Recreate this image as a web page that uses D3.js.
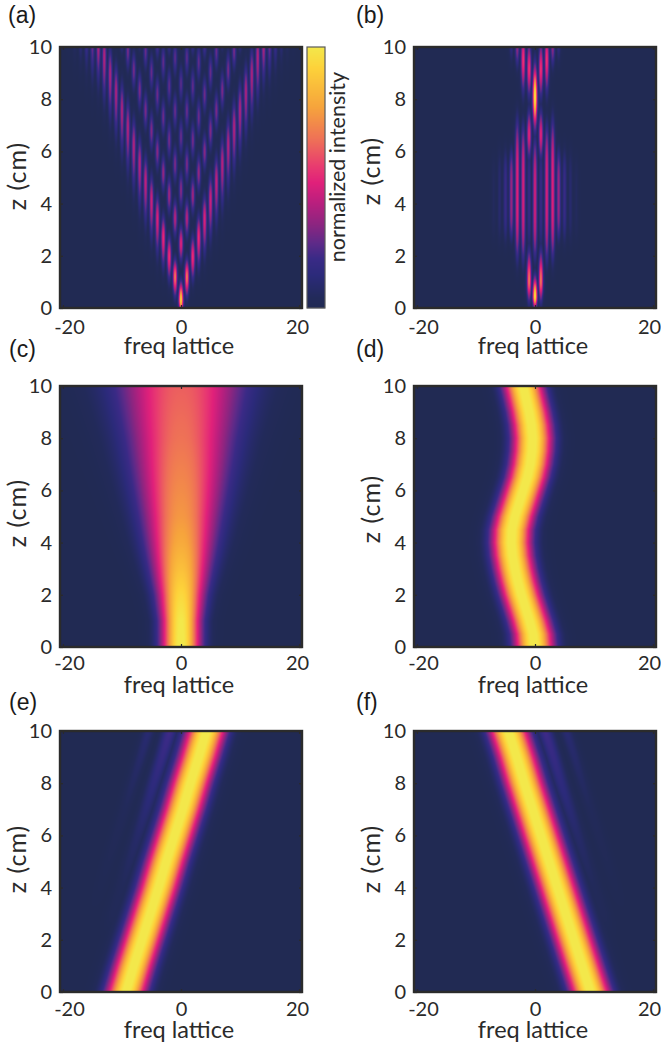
<!DOCTYPE html>
<html>
<head>
<meta charset="utf-8">
<script src="https://cdn.jsdelivr.net/npm/d3@7"></script>
<style>
html,body{margin:0;padding:0;background:#fff}
svg{display:block}
</style>
</head>
<body>
<div id="chart"></div>
<script>
// ---- axis content ----
const xTicks = [-20, 0, 20];
const zTicks = [0, 2, 4, 6, 8, 10];
const xTitle = "freq lattice";
const zTitle = "z (cm)";
const barTitle = "normalized intensity";

// ---- colour bar stops ----
const cmapLevels = [0, .04, .125, .19, .25, .32, .40, .48, .54, .64, .77, .92, 1];
const cmapColors = ["#212a53","#222a5a","#2b2a7a","#3a2a86","#5f2a88","#8c2580","#b81f7e","#e0207a","#e83a70","#ee6e58","#f6a43c","#fdd23a","#f3e84b"];

// ---- (a) bright lobes per lattice site |n|: [z, level, upper half length, lower half length, flatness] ----
const lobesA = [
 [[.3,.9,.6,.4],[2.47,.47,.62,.62],[4.53,.31,.65,.65],[6.56,.26,.65,.65],[8.59,.24,.65,.65]],
 [[1.19,.66,.6,.65],[3.44,.39,.65,.65],[5.51,.29,.65,.65],[7.55,.26,.65,.65],[9.59,.24,.65,.65]],
 [[1.97,.52,.7,.8],[4.33,.35,.65,.65],[6.43,.28,.65,.65],[8.5,.25,.65,.65],[10.4,.24,.65,.65]],
 [[2.71,.5,.75,1.0],[5.17,.33,.65,.65],[7.32,.27,.65,.65],[9.41,.25,.65,.65]],
 [[3.43,.46,.8,1.2],[5.99,.31,.65,.65],[8.18,.27,.65,.65],[10.25,.25,.65,.65]],
 [[4.14,.43,.85,1.3],[6.79,.3,.68,.68],[9.03,.26,.65,.65]],
 [[4.84,.41,.9,1.4],[7.57,.29,.68,.68],[9.85,.26,.65,.65]],
 [[5.54,.39,.9,1.5],[8.34,.29,.68,.68],[10.66,.26,.65,.65]],
 [[6.23,.38,.95,1.5],[9.11,.28,.68,.68]],
 [[6.91,.38,.95,1.5],[9.86,.28,.68,.68]],
 [[7.59,.37,.95,1.5],[10.6,.27,.68,.68]],
 [[8.28,.37,.95,1.5]],
 [[8.95,.37,.95,1.5]],
 [[9.63,.38,.95,1.5]],
 [[10.3,.39,.95,1.5]],
 [[10.5,.3,.9,1.5]],
 [[10.7,.23,.9,1.4]],
 [[10.9,.17,.9,1.3]],
 [[11.2,.13,.9,1.3]],
 [[11.5,.09,.9,1.2]]
];

// ---- (b) bright lobes per lattice site |n| ----
const lobesB = [
 [[.45,.95,.65,.4],[4.2,.44,2.2,2.2,4],[8.1,.97,1.05,1.05]],
 [[1.05,.66,1.0,.7],[4.2,.17,1.9,1.9,4],[6.65,.48,.85,.85],[9.15,.53,.95,.95]],
 [[4.5,.45,2.4,2.6,4],[9.5,.53,1.1,1.1]],
 [[4.5,.47,2.6,2.5,4],[10,.32,.7,.7]],
 [[4.3,.34,1.7,1.6,4],[10.2,.15,.7,.7]],
 [[4.3,.18,1.7,1.7,4]],
 [[4.3,.09,1.7,1.7,4]],
 [[4.2,.05,1.5,1.5,4]]
];

// ---- (c)-(f) beam read at heights z ----
const bandZ = [0,1,2,3,4,5,6,7,8,9,10];
const centreC = [0,0,0,0,0,0,0,0,0,0,0];
const widthC = [3.2,3.25,3.8,4.65,5.5,6.3,7.1,7.9,8.7,9.6,10.5];
const peakC = [1.02,1.0,.94,.86,.79,.74,.71,.68,.65,.63,.61];

const bandZD = [0,.5,1,1.5,2,2.5,3,3.5,4,4.5,5,5.5,6,6.5,7,7.5,8,8.5,9,9.5,10];
const centreD = [-.1,-.3,-.9,-1.6,-2.3,-2.9,-3.4,-3.8,-4,-3.9,-3.4,-2.7,-2,-1.3,-.8,-.5,-.4,-.6,-1,-1.5,-2];
const widthD = bandZD.map(() => 3.2);
const peakD = bandZD.map(() => 1.02);

const centreE = [-9.3,-8,-6.6,-5.2,-3.8,-2.5,-1.1,.3,1.6,3,4.3];
const centreF = [9.4,8,6.6,5.2,3.8,2.4,1,-.4,-1.8,-3.1,-4.5];
const widthEF = bandZ.map(() => 3.2);
const peakEF = bandZ.map(() => 1.02);
const fringeOne = [0,0,0,.03,.04,.06,.08,.11,.14,.17,.2];
const fringeTwo = [0,0,0,0,.01,.02,.03,.04,.06,.08,.1];

// ---- page layout ----
const W = 661, H = 1046;
const panels = [
 {tag:"(a)", left:60,  top:47,  bottom:308, tagX:8,   tagY:23,  tickPad:11.8, zMid:176, lobes:lobesA},
 {tag:"(b)", left:414, top:47,  bottom:308, tagX:356, tagY:23,  tickPad:11.8, zMid:171, lobes:lobesB},
 {tag:"(c)", left:60,  top:386, bottom:647, tagX:9,   tagY:357, tickPad:8.8,  zMid:513, z:bandZ,  c:centreC, w:widthC, p:peakC},
 {tag:"(d)", left:414, top:386, bottom:647, tagX:356, tagY:357, tickPad:8.8,  zMid:509, z:bandZD, c:centreD, w:widthD, p:peakD},
 {tag:"(e)", left:60,  top:731, bottom:992, tagX:9,   tagY:710, tickPad:9.8,  zMid:859, z:bandZ,  c:centreE, w:widthEF, p:peakEF, side:-1},
 {tag:"(f)", left:414, top:731, bottom:992, tagX:356, tagY:710, tickPad:9.8,  zMid:859, z:bandZ,  c:centreF, w:widthEF, p:peakEF, side:1}
];
const panelW = 242;
const labelFont = "Lato, 'Open Sans', sans-serif";
const dark = "#2b2b2b";

const colour = d3.scaleLinear().domain(cmapLevels).range(cmapColors).interpolate(d3.interpolateRgb).clamp(true);

const svg = d3.select("#chart").append("svg").attr("width", W).attr("height", H).attr("viewBox", `0 0 ${W} ${H}`);

function lobeField(lobes) {
  return (n, z) => {
    const site = Math.round(Math.abs(n));
    let best = 0;
    for (const s of [site - 1, site, site + 1]) {
      if (s < 0 || s >= lobes.length) continue;
      const dn = Math.abs(n) - s;
      const across = .82 * Math.exp(-Math.pow(dn / .33, 2)) + .18 * Math.exp(-Math.pow(dn / .72, 2));
      for (const [zc, level, up, down, flat = 2] of lobes[s]) {
        const dz = Math.abs(z - zc) / (z > zc ? up : down);
        best = Math.max(best, level * across * Math.exp(-Math.pow(dz, flat)));
      }
    }
    return best;
  };
}

function bandField(p) {
  const cAt = d3.scaleLinear().domain(p.z).range(p.c);
  const wAt = d3.scaleLinear().domain(p.z).range(p.w);
  const pAt = d3.scaleLinear().domain(p.z).range(p.p);
  const f1 = d3.scaleLinear().domain(bandZ).range(fringeOne);
  const f2 = d3.scaleLinear().domain(bandZ).range(fringeTwo);
  return (n, z) => {
    const d = n - cAt(z);
    let v = pAt(z) * Math.exp(-Math.pow(Math.abs(d) / wAt(z), 2.2));
    if (p.side) {
      const a = (d - p.side * 6.2) / 1.3, b = (d - p.side * 9.8) / 1.1;
      v = Math.max(v, f1(z) * Math.exp(-a * a), f2(z) * Math.exp(-b * b));
    }
    return v;
  };
}

panels.forEach(p => {
  const x = d3.scaleLinear().domain([-20.5, 20.5]).range([p.left, p.left + panelW]);
  const y = d3.scaleLinear().domain([0, 10]).range([p.bottom, p.top]);
  const field = p.lobes ? lobeField(p.lobes) : bandField(p);

  // heat map cells, one per screen pixel, placed through the scales
  const cv = document.createElement("canvas");
  cv.width = panelW; cv.height = p.bottom - p.top;
  const ctx = cv.getContext("2d");
  for (let j = 0; j < cv.height; j++) {
    const z = y.invert(p.top + j + .5);
    for (let i = 0; i < cv.width; i++) {
      ctx.fillStyle = colour(field(x.invert(p.left + i + .5), z));
      ctx.fillRect(i, j, 1, 1);
    }
  }
  const g = svg.append("g");
  g.append("image").attr("x", p.left).attr("y", p.top).attr("width", cv.width).attr("height", cv.height)
    .attr("href", cv.toDataURL("image/png"));

  // frame and axes
  const styleAxis = a => {
    a.select(".domain").remove();
    a.selectAll("line").attr("stroke", dark).attr("stroke-width", 1.2);
    a.selectAll("text").attr("fill", "#2a2a2a").attr("font-family", labelFont).attr("font-size", 20);
  };
  const rightCol = p.left > 300;
  const bottomAxis = g.append("g").attr("transform", `translate(0,${p.bottom})`)
    .call(d3.axisBottom(x).tickValues(xTicks).tickSizeInner(-3).tickSizeOuter(0).tickPadding(p.tickPad).tickFormat(d => String(d)));
  styleAxis(bottomAxis);
  bottomAxis.selectAll("text").attr("dx", d => d < 0 ? 6 : d > 0 ? (rightCol ? -4 : -2) : 0);
  styleAxis(g.append("g").attr("transform", `translate(0,${p.top})`)
    .call(d3.axisTop(x).tickValues(xTicks).tickSizeInner(-3).tickSizeOuter(0).tickFormat("")));
  styleAxis(g.append("g").attr("transform", `translate(${p.left},0)`)
    .call(d3.axisLeft(y).tickValues(zTicks).tickSizeInner(-3).tickSizeOuter(0).tickPadding(8)));
  styleAxis(g.append("g").attr("transform", `translate(${p.left + panelW},0)`)
    .call(d3.axisRight(y).tickValues(zTicks).tickSizeInner(-3).tickSizeOuter(0).tickFormat("")));
  g.append("rect").attr("x", p.left).attr("y", p.top).attr("width", panelW).attr("height", p.bottom - p.top)
    .attr("fill", "none").attr("stroke", dark).attr("stroke-width", 2.4);

  g.append("text").attr("x", p.left + panelW / 2 - 2).attr("y", p.bottom + 46).attr("text-anchor", "middle")
    .attr("font-family", labelFont).attr("font-size", 23.5).attr("fill", "#2a2a2a").text(xTitle);
  g.append("text").attr("transform", `translate(${p.left - 34},${p.zMid}) rotate(-90)`)
    .attr("text-anchor", "middle").attr("font-family", labelFont).attr("font-size", 25).attr("letter-spacing", 1)
    .attr("fill", "#2a2a2a").text(zTitle);
  svg.append("text").attr("x", p.tagX).attr("y", p.tagY).attr("font-family", "'Liberation Sans', Arial, sans-serif")
    .attr("font-size", 23).attr("fill", "#1a1a1a").text(p.tag);
});

// colour bar, drawn from the same colour scale
const barY = d3.scaleLinear().domain([0, 1]).range([308, 47]);
const bar = svg.append("g");
bar.selectAll("rect").data(d3.range(0, 261)).join("rect")
  .attr("x", 307).attr("width", 18)
  .attr("y", d => 47 + d).attr("height", 1.2)
  .attr("fill", d => colour(barY.invert(47 + d + .5)));
bar.append("rect").attr("x", 307).attr("y", 47).attr("width", 18).attr("height", 261)
  .attr("fill", "none").attr("stroke", "#5a5a5a").attr("stroke-width", 1.2);
svg.append("text").attr("transform", "translate(345,167) rotate(-90)").attr("text-anchor", "middle")
  .attr("font-family", labelFont).attr("font-size", 21.5).attr("fill", "#2a2a2a").text(barTitle);
</script>
</body>
</html>
